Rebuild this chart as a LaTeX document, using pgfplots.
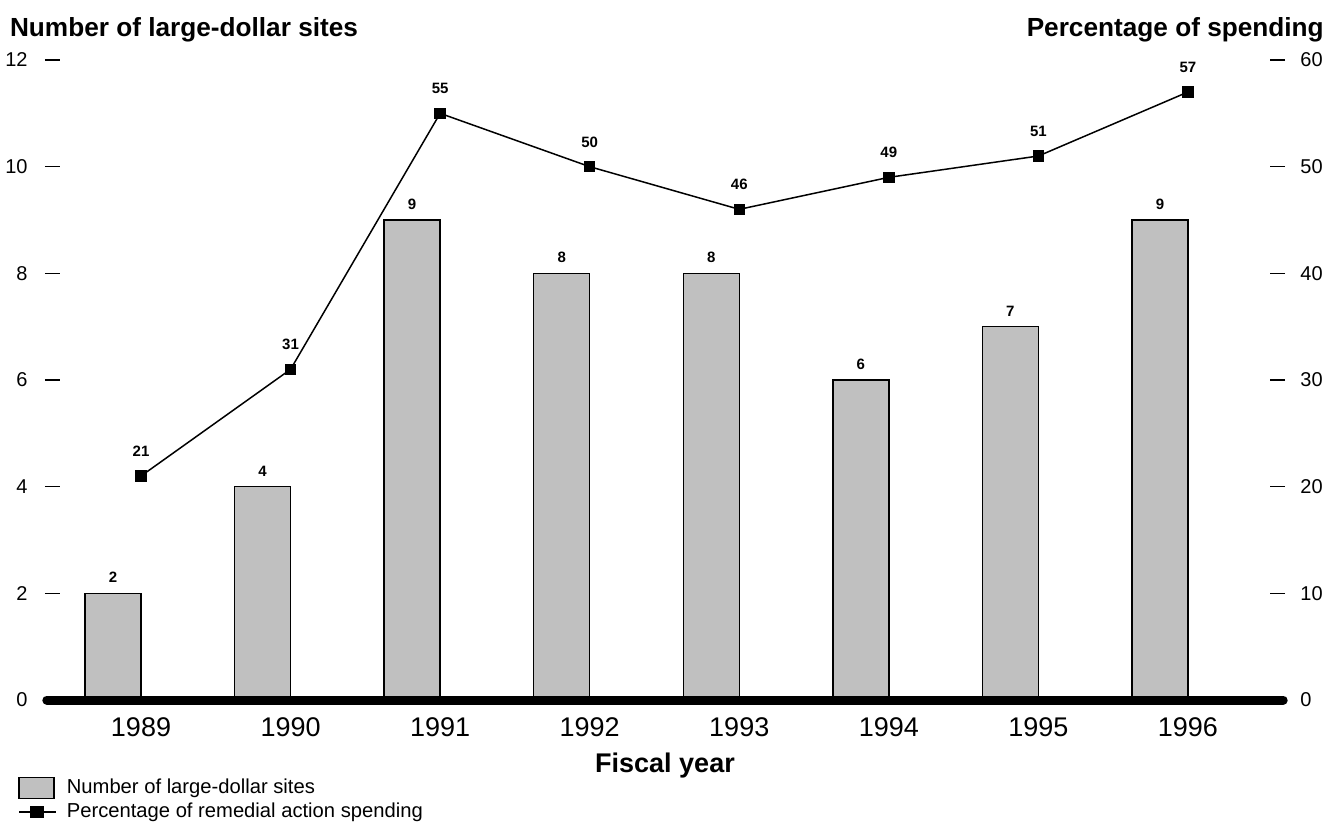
\documentclass[border=0pt]{standalone}
\usepackage{pgfplots}
\pgfplotsset{compat=1.18}
\usepackage{fontspec}
\setmainfont{Liberation Sans}
\definecolor{barfill}{RGB}{192,192,192}
\begin{document}
\begin{tikzpicture}
\pgfplotsset{
  base/.style={
    scale only axis, width=620pt, height=320pt,
    xmin=-0.642, xmax=7.649, ymin=0,
    at={(0,0)}, anchor=south west,
    clip=false,
    axis line style={draw=none},
    /pgf/number format/assume math mode=true,
    yticklabel style={font=\fontsize{10}{12}\selectfont},
    ytick style={line width=0.75pt, black},
    major tick length=7.5pt,
  }
}
\begin{axis}[base, name=ax, ymax=12, ytick={0,2,...,12},
  axis y line*=left, axis x line*=bottom,
  tick align=inside,
  yticklabel style={xshift=-5.2pt},
  xtick={0,1,2,3,4,5,6,7},
  xticklabels={1989,1990,1991,1992,1993,1994,1995,1996},
  xtick style={draw=none},
  xticklabel style={font=\fontsize{13.5}{15}\selectfont, anchor=base, yshift=-18.3pt},
]
\addplot[ybar, bar width=28pt, bar shift=-14pt, fill=barfill, draw=black, line width=0.75pt,
  nodes near coords,
  every node near coord/.style={font=\bfseries\fontsize{7.5}{9}\selectfont, black, xshift=-14pt, yshift=1.5pt}]
  coordinates {(0,2) (1,4) (2,9) (3,8) (4,8) (5,6) (6,7) (7,9)};
\draw[line width=4.5pt, line cap=round] (axis cs:-0.63,0) -- (axis cs:7.637,0);
\node[anchor=base west, font=\bfseries\fontsize{13.1}{15}\selectfont, xshift=-21pt, yshift=11.8pt] at (rel axis cs:0,1) {Number of large-dollar sites};
\node[anchor=base east, font=\bfseries\fontsize{13.1}{15}\selectfont, xshift=22.9pt, yshift=11.8pt] at (rel axis cs:1,1) {Percentage of spending};
\node[anchor=base, font=\bfseries\fontsize{13.5}{15}\selectfont, yshift=-36.3pt] at (rel axis cs:0.5,0) {Fiscal year};
\end{axis}
\begin{axis}[base, ymax=60, ytick={0,10,...,60},
  axis y line*=right, axis x line=none,
  tick align=inside,
  yticklabel style={xshift=4.2pt},
  legend style={at={(-0.0218,-0.117)}, anchor=north west, draw=none, fill=none,
    inner sep=0pt, row sep=-1pt, font=\fontsize{10.1}{12}\selectfont,
    /tikz/every odd column/.append style={column sep=3pt}},
  legend cell align=left,
]
\addlegendimage{legend image code/.code={\draw[fill=barfill, draw=black, line width=0.75pt] (0pt,-5.25pt) rectangle (17.5pt,5.25pt);}}
\addlegendentry{Number of large-dollar sites}
\addplot[black, line width=0.75pt, mark=square*, mark size=2.5pt,
  legend image code/.code={\draw[line width=0.75pt] (0pt,0pt) -- (18.5pt,0pt); \fill (6pt,-2.75pt) rectangle (12pt,2.75pt);},
  nodes near coords,
  every node near coord/.style={font=\bfseries\fontsize{7.5}{9}\selectfont, black, yshift=6pt}]
  coordinates {(0,21) (1,31) (2,55) (3,50) (4,46) (5,49) (6,51) (7,57)};
\addlegendentry{Percentage of remedial action spending}
\end{axis}
\pgfresetboundingbox
\useasboundingbox ([shift={(-22.5pt,-63.5pt)}]ax.south west) rectangle ([shift={(644pt,350pt)}]ax.south west);
\end{tikzpicture}
\end{document}
